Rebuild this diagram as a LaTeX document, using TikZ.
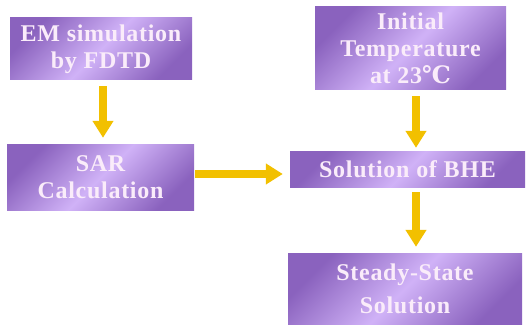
\documentclass[tikz,border=0pt]{standalone}
\usepackage{fontspec}
\setmainfont[LetterSpace=3]{Liberation Serif}
\newfontfamily\simbolo{DejaVu Serif}
\usepackage{tikz}
\usetikzlibrary{calc,arrows.meta}
\definecolor{cajaoscuro}{RGB}{138,98,190}
\definecolor{cajaclaro}{RGB}{208,178,247}
\definecolor{flechaoro}{RGB}{242,192,0}
\definecolor{textoclaro}{RGB}{250,236,250}

\begin{document}
\begin{tikzpicture}[x=1pt, y=1pt, >=Stealth,
    caja/.style={top color=cajaoscuro, bottom color=cajaoscuro,
        middle color=cajaclaro, shading angle=45, text=textoclaro,
        font=\bfseries\fontsize{24}{27}\selectfont, align=center, inner sep=0pt},
    flujo/.style={flechaoro, line width=8pt, -{Triangle[width=20pt,length=17pt]}}]
    \useasboundingbox (0,0) rectangle (526,324);
    % cajas del diagrama
    \node[caja, minimum width=182pt, minimum height=62pt] (em) at (101,275)
        {EM simulation\\by FDTD};
    \node[caja, minimum width=187pt, minimum height=65pt] (sar) at (100.5,146.5)
        {SAR\\Calculation};
    \node[caja, minimum width=191pt, minimum height=83pt] (init) at (410.5,275.5)
        {Initial\\Temperature\\at 23{\simbolo ℃}};
    \node[caja, minimum width=235pt, minimum height=35pt] (bhe) at (407.5,154.5)
        {Solution of BHE};
    \node[caja, minimum width=234pt, minimum height=71pt] (steady) at (405,35.5)
        {Steady-State\\[6pt]Solution};
    % flechas amarillas
    \draw[flujo, shorten <=6pt, shorten >=7pt]
        ([xshift=2pt]em.south) -- ([xshift=2pt]em.south |- sar.north);
    \draw[flujo, shorten <=6pt, shorten >=4pt]
        ([xshift=5.5pt]init.south) -- ([xshift=5.5pt]init.south |- bhe.north);
    \draw[flujo, shorten <=5pt, shorten >=6pt]
        ([xshift=8.5pt]bhe.south) -- ([xshift=8.5pt]bhe.south |- steady.north);
    \draw[flujo, shorten <=1pt, shorten >=7pt]
        ([yshift=3.5pt]sar.east) -- ([yshift=3.5pt]sar.east -| bhe.west);
\end{tikzpicture}
\end{document}
